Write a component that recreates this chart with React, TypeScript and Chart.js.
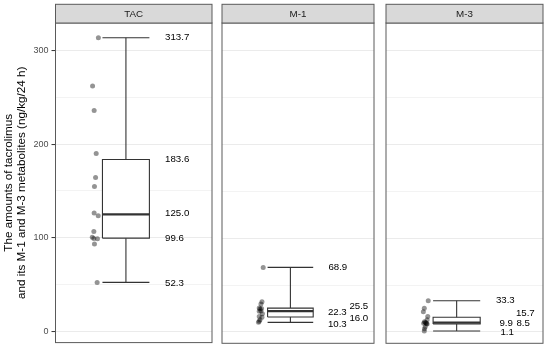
import React, { useEffect, useRef } from 'react';
import { Chart, registerables } from 'chart.js';
Chart.register(...registerables);

// ---------- data ----------
const panelNames = ['TAC', 'M-1', 'M-3'];
const whiskerMin = [52.3, 10.3, 1.1];
const quartile1 = [99.6, 16.0, 8.5];
const medians = [125.0, 22.3, 9.9];
const quartile3 = [183.6, 25.5, 15.7];
const whiskerMax = [313.7, 68.9, 33.3];

const tacValues = [313.7, 262.3, 236.0, 190.0, 164.4, 154.8, 126.5, 123.5, 106.8, 100.5, 99.3, 98.8, 93.3, 52.3];
const tacJitterX = [0.274, 0.237, 0.247, 0.26, 0.256, 0.249, 0.247, 0.273, 0.245, 0.235, 0.245, 0.268, 0.249, 0.266];
const m1Values = [68.9, 32.3, 29.8, 25.7, 25.0, 24.5, 22.5, 22.0, 19.5, 16.6, 15.8, 13.0, 11.5, 10.3];
const m1JitterX = [0.271, 0.263, 0.256, 0.245, 0.26, 0.25, 0.256, 0.245, 0.266, 0.245, 0.263, 0.25, 0.245, 0.24];
const m3Values = [33.3, 25.2, 21.7, 16.6, 13.0, 10.8, 10.1, 9.7, 9.2, 8.8, 8.4, 5.7, 3.5, 1.1];
const m3JitterX = [0.269, 0.244, 0.238, 0.266, 0.262, 0.245, 0.25, 0.255, 0.24, 0.258, 0.262, 0.25, 0.245, 0.244];

const yTicks = [0, 50, 100, 150, 200, 250, 300];
const yMajorTicks = [0, 100, 200, 300];
const yTitle = ['The amounts of tacrolimus', 'and its M-1 and M-3 metabolites (ng/kg/24 h)'];

// ---------- layout / style ----------
const FONT = "'Liberation Sans', Arial, Helvetica, sans-serif";
const Y_MIN = -12.05;
const Y_MAX = 329.5;
const BOX_CENTER = 0.45;
const BOX_HALF = 0.15;
const LABEL_X = 0.7;
// label nudges (px) in order [max, q3, median, q1, min]
const labelDx = [
  [0, 0, 0, 0, 0],
  [0, 21, -0.5, 21, -0.5],
  [0, 20, 3.5, 20.5, 4.5],
];
const labelDy = [
  [-0.5, 0, -1, 0.3, 0.5],
  [0, -2, 0.8, 1.5, 2],
  [-0.5, -4, 0.5, -0.5, 1.5],
];
const panelLayout = [
  { left: 0, width: 216, padL: 0, padR: 2, axisWidth: 55.5 },
  { left: 218, width: 160, padL: 2, padR: 2, axisWidth: 0 },
  { left: 382, width: 165, padL: 2, padR: 2, axisWidth: 0 },
];
const STRIP_TOP = 4.3;

function panelPoints(i: number) {
  const vals = [tacValues, m1Values, m3Values][i];
  const jit = [tacJitterX, m1JitterX, m3JitterX][i];
  return vals.map((v, k) => ({ x: jit[k], y: v }));
}

function fmt(v: number) {
  return v.toFixed(1);
}

function Panel({ index }: { index: number }) {
  const ref = useRef<HTMLCanvasElement | null>(null);
  const lay = panelLayout[index];
  useEffect(() => {
    if (!ref.current) return;
    const l = BOX_CENTER - BOX_HALF;
    const r = BOX_CENTER + BOX_HALF;
    const c = BOX_CENTER;
    const lineDs = (pts: { x: number; y: number }[], w: number, order: number) => ({
      data: pts,
      showLine: true,
      borderColor: '#333333',
      borderWidth: w,
      pointRadius: 0,
      fill: false,
      order,
    });
    const datasets: any[] = [
      {
        data: [
          { x: l, y: quartile1[index] },
          { x: r, y: quartile1[index] },
          { x: r, y: quartile3[index] },
          { x: l, y: quartile3[index] },
          { x: l, y: quartile1[index] },
        ],
        showLine: true,
        borderColor: '#333333',
        borderWidth: 1.1,
        backgroundColor: '#ffffff',
        fill: 'shape',
        pointRadius: 0,
        order: 3,
      },
      lineDs([{ x: l, y: medians[index] }, { x: r, y: medians[index] }], 2.2, 1),
      lineDs([{ x: c, y: whiskerMin[index] }, { x: c, y: quartile1[index] }], 1.1, 2),
      lineDs([{ x: c, y: quartile3[index] }, { x: c, y: whiskerMax[index] }], 1.1, 2),
      lineDs([{ x: l, y: whiskerMin[index] }, { x: r, y: whiskerMin[index] }], 1.1, 2),
      lineDs([{ x: l, y: whiskerMax[index] }, { x: r, y: whiskerMax[index] }], 1.1, 2),
      {
        data: panelPoints(index),
        showLine: false,
        pointRadius: 2.5,
        pointBackgroundColor: 'rgba(0,0,0,0.42)',
        pointBorderWidth: 0,
        pointBorderColor: 'rgba(0,0,0,0)',
        order: 0,
      },
    ];

    const decor = {
      id: 'decor' + index,
      afterDatasetsDraw(chart: any) {
        const ctx = chart.ctx;
        const xs = chart.scales.x;
        const ys = chart.scales.y;
        const stats = [whiskerMax[index], quartile3[index], medians[index], quartile1[index], whiskerMin[index]];
        ctx.save();
        ctx.font = `9.7px ${FONT}`;
        ctx.fillStyle = '#000000';
        ctx.textAlign = 'left';
        ctx.textBaseline = 'middle';
        stats.forEach((v, k) => {
          const px = xs.getPixelForValue(LABEL_X) + labelDx[index][k];
          const py = ys.getPixelForValue(v) + labelDy[index][k];
          ctx.fillText(fmt(v), px, py);
        });
        ctx.restore();
      },
      afterDraw(chart: any) {
        const ctx = chart.ctx;
        const a = chart.chartArea;
        ctx.save();
        // panel border
        ctx.strokeStyle = '#5a5a5a';
        ctx.lineWidth = 1;
        ctx.strokeRect(a.left, a.top, a.right - a.left, a.bottom - a.top);
        // strip
        ctx.fillStyle = '#D9D9D9';
        ctx.fillRect(a.left, STRIP_TOP, a.right - a.left, a.top - STRIP_TOP);
        ctx.strokeRect(a.left, STRIP_TOP, a.right - a.left, a.top - STRIP_TOP);
        ctx.fillStyle = '#1A1A1A';
        ctx.font = `9.8px ${FONT}`;
        ctx.textAlign = 'center';
        ctx.textBaseline = 'middle';
        ctx.fillText(panelNames[index], (a.left + a.right) / 2, (STRIP_TOP + a.top) / 2 + 0.5);
        ctx.restore();
      },
    };

    const showAxis = lay.axisWidth > 0;
    const chart = new Chart(ref.current, {
      type: 'scatter',
      data: { datasets },
      options: {
        animation: false,
        responsive: false,
        maintainAspectRatio: false,
        events: [],
        layout: { padding: { left: lay.padL, right: lay.padR, top: 23, bottom: 7.7 } },
        plugins: { legend: { display: false }, tooltip: { enabled: false }, title: { display: false } },
        scales: {
          x: { type: 'linear', min: 0, max: 1, display: false },
          y: {
            type: 'linear',
            min: Y_MIN,
            max: Y_MAX,
            display: true,
            afterBuildTicks: (axis: any) => {
              axis.ticks = yTicks.map((v) => ({ value: v }));
            },
            afterFit: (axis: any) => {
              axis.width = lay.axisWidth;
            },
            border: { display: false },
            grid: {
              drawTicks: showAxis,
              tickLength: 4,
              tickWidth: 1,
              tickColor: (ctx: any) =>
                ctx.tick && yMajorTicks.includes(ctx.tick.value) ? '#333333' : 'rgba(0,0,0,0)',
              color: (ctx: any) =>
                ctx.tick && yMajorTicks.includes(ctx.tick.value) ? '#EBEBEB' : '#F0F0F0',
              lineWidth: (ctx: any) => (ctx.tick && yMajorTicks.includes(ctx.tick.value) ? 1.1 : 0.8),
            },
            ticks: {
              display: showAxis,
              padding: 3,
              color: '#4D4D4D',
              font: { family: FONT, size: 9 },
              callback: (v: any) => (yMajorTicks.includes(Number(v)) ? String(v) : ''),
            },
            title: {
              display: showAxis,
              text: yTitle,
              color: '#000000',
              font: { family: FONT, size: 11.7, lineHeight: 1.15 },
              padding: { top: 2, bottom: 0 },
            },
          },
        },
      },
      plugins: [decor],
    } as any);
    return () => chart.destroy();
  }, [index]);

  return (
    <canvas
      ref={ref}
      width={lay.width}
      height={351}
      style={{ position: 'absolute', left: lay.left, top: 0, width: lay.width, height: 351 }}
    />
  );
}

export default function App() {
  return (
    <div style={{ position: 'fixed', left: 0, top: 0, width: 550, height: 351, background: '#ffffff', overflow: 'hidden' }}>
      {panelNames.map((_, i) => (
        <Panel key={i} index={i} />
      ))}
    </div>
  );
}
